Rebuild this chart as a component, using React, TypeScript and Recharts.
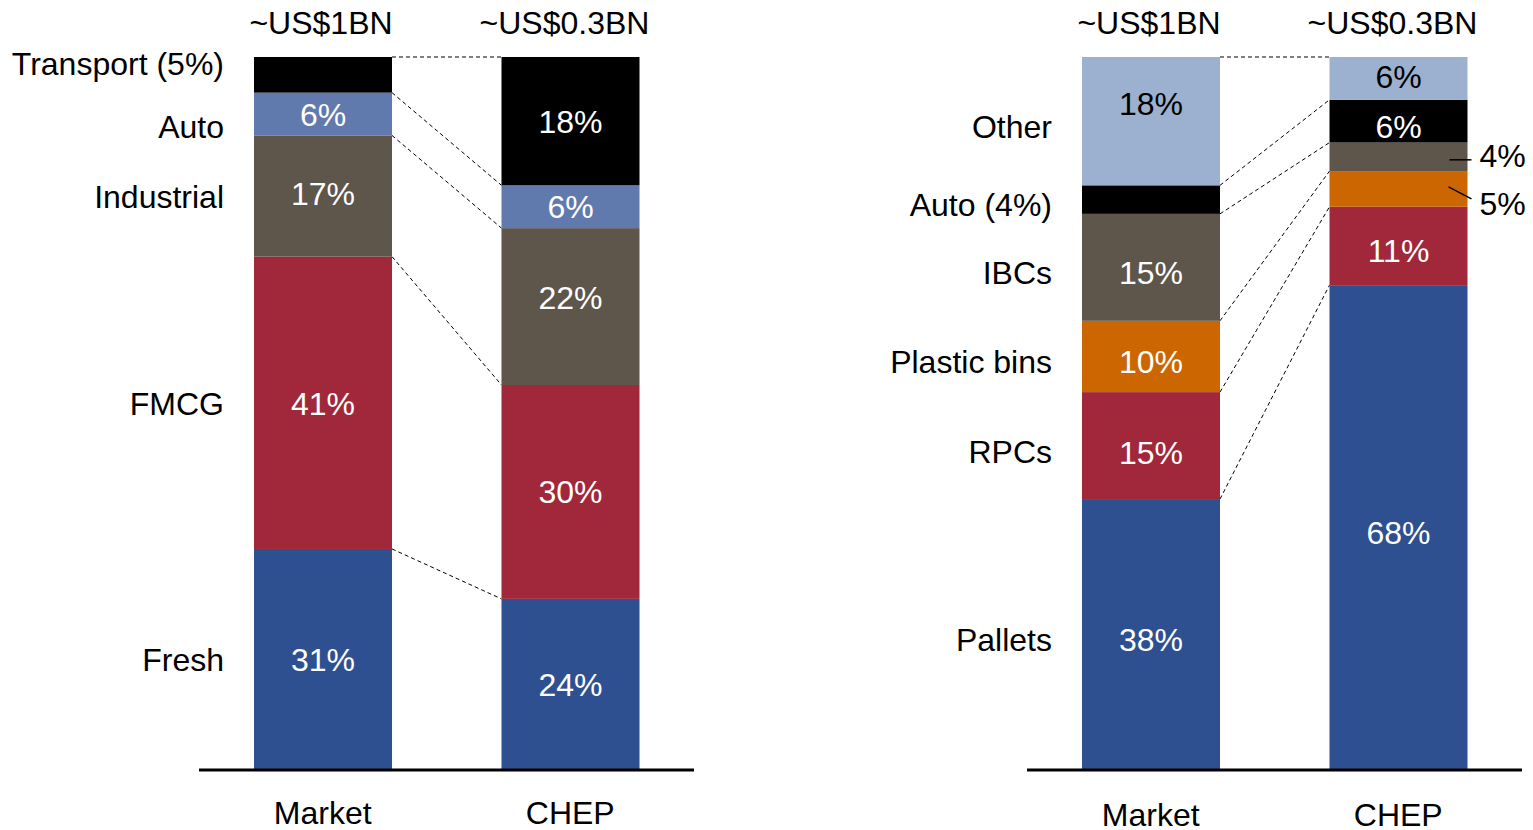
import { BarChart, Bar, XAxis, YAxis, LabelList } from 'recharts';

const categories = ['Market', 'CHEP'];
const sizeLabels = ['~US$1BN', '~US$0.3BN'];

// left panel: end market split, bottom to top
const leftSeries = ['Fresh', 'FMCG', 'Industrial', 'Auto', 'Transport'];
const leftSideLabels = ['Fresh', 'FMCG', 'Industrial', 'Auto', 'Transport (5%)'];
const leftMarket = [31, 41, 17, 6, 5];
const leftChep = [24, 30, 22, 6, 18];

// right panel: product split, bottom to top
const rightSeries = ['Pallets', 'RPCs', 'Plastic bins', 'IBCs', 'Auto', 'Other'];
const rightSideLabels = ['Pallets', 'RPCs', 'Plastic bins', 'IBCs', 'Auto (4%)', 'Other'];
const rightMarket = [38, 15, 10, 15, 4, 18];
const rightChep = [68, 11, 5, 4, 6, 6];

const FONT = "'Liberation Sans', Arial, sans-serif";
const FS = 32;
const PANEL_W = 766;
const PANEL_H = 830;

const BLUE = '#2E5090';
const RED = '#A0283A';
const BROWN = '#5E554B';
const STEEL = '#617AAE';
const BLACK = '#000000';
const ORANGE = '#CC6600';
const PALE = '#9CB0CF';

const sum = (arr: number[], n: number) => arr.slice(0, n).reduce((a, b) => a + b, 0);

type PanelProps = {
  names: string[];
  sideLabels: string[];
  market: number[];
  chep: number[];
  colors: string[];
  ink: string[];
  margin: { top: number; right: number; bottom: number; left: number };
  sideDy: number[];
  marketDy: number[];
  chepDy: number[];
  hideMarket: number[];
  outsideChep: number[];
  tickDy: number;
  left: number;
};

const Panel = (cfg: PanelProps) => {
  const { names, market, chep, margin } = cfg;
  const rows = categories.map((name, ci) => {
    const row: any = { name, size: sizeLabels[ci] };
    names.forEach((n, si) => {
      row[n] = ci === 0 ? market[si] : chep[si];
    });
    return row;
  });
  const band = (PANEL_W - margin.left - margin.right) / categories.length;

  const renderShape = (si: number) => (p: any) => {
    const { x, y, width, height, index } = p;
    let connector = null;
    if (index === 0 && market[si] > 0) {
      const k = height / market[si];
      const yBottom = y + height + sum(market, si) * k;
      const yChep = yBottom - sum(chep, si + 1) * k;
      connector = (
        <line x1={x + width} y1={y} x2={x + band} y2={yChep}
          stroke="#000" strokeWidth={1} strokeDasharray="4 3" />
      );
    }
    return (
      <g>
        <rect x={x} y={y} width={width} height={height} fill={cfg.colors[si]} />
        {connector}
      </g>
    );
  };

  const renderInside = (si: number) => (p: any) => {
    const vb = p.viewBox || p;
    const x = vb.x ?? p.x;
    const y = vb.y ?? p.y;
    const w = vb.width ?? p.width;
    const h = vb.height ?? p.height;
    const index = p.index;
    const cy = y + h / 2;
    if (index === 0 && cfg.hideMarket.includes(si)) return null;
    if (index === 1 && cfg.outsideChep.includes(si)) {
      // first entry gets a flat leader, the second a sloped one
      const first = cfg.outsideChep.indexOf(si) === 0;
      const right = x + w;
      return (
        <g>
          {first ? (
            <line x1={right - 18} y1={cy + 3} x2={right + 4} y2={cy + 3} stroke="#000" strokeWidth={1.5} />
          ) : (
            <line x1={right - 19} y1={cy - 2} x2={right + 4} y2={cy + 10} stroke="#000" strokeWidth={1.5} />
          )}
          <text x={right + 12} y={first ? cy - 1 : cy + 15} dy="0.36em" fontSize={FS} fontFamily={FONT} fill="#000">
            {p.value}%
          </text>
        </g>
      );
    }
    const dy = index === 0 ? cfg.marketDy[si] : cfg.chepDy[si];
    return (
      <text x={x + w / 2} y={cy + dy} dy="0.36em" textAnchor="middle" fontSize={FS}
        fontFamily={FONT} fill={cfg.ink[si]}>
        {p.value}%
      </text>
    );
  };

  const renderSide = (si: number) => (p: any) => {
    const vb = p.viewBox || p;
    const x = vb.x ?? p.x;
    const y = vb.y ?? p.y;
    const h = vb.height ?? p.height;
    if (p.index !== 0) return null;
    return (
      <text x={x - 30} y={y + h / 2 + cfg.sideDy[si]} dy="0.36em" textAnchor="end"
        fontSize={FS} fontFamily={FONT} fill="#000">
        {cfg.sideLabels[si]}
      </text>
    );
  };

  const renderTitle = (p: any) => {
    const vb = p.viewBox || p;
    const x = vb.x ?? p.x;
    const y = vb.y ?? p.y;
    const w = vb.width ?? p.width;
    return (
      <text x={x + w / 2 - (p.index === 1 ? 6 : 2)} y={y - 35} dy="0.36em" textAnchor="middle"
        fontSize={FS} fontFamily={FONT} fill="#000">
        {p.value}
      </text>
    );
  };

  return (
    <div style={{ position: 'absolute', left: cfg.left, top: 0 }}>
      <BarChart width={PANEL_W} height={PANEL_H} data={rows} margin={margin} barCategoryGap={0}>
        <XAxis
          dataKey="name"
          axisLine={{ stroke: '#000', strokeWidth: 3 }}
          tickLine={false}
          tickSize={0}
          tickMargin={0}
          height={30}
          interval={0}
          tick={(t: any) => (
            <text x={t.x} y={t.y} dy={cfg.tickDy} textAnchor="middle" fontSize={FS}
              fontFamily={FONT} fill="#000">
              {t.payload.value}
            </text>
          )}
        />
        <YAxis hide type="number" domain={[0, 100]} />
        {names.map((n, si) => (
          <Bar key={n} dataKey={n} stackId="s" fill={cfg.colors[si]} barSize={138}
            isAnimationActive={false} shape={renderShape(si)}>
            <LabelList dataKey={n} content={renderInside(si)} />
            <LabelList dataKey={n} content={renderSide(si)} />
            {si === names.length - 1 && <LabelList dataKey="size" content={renderTitle} />}
          </Bar>
        ))}
      </BarChart>
    </div>
  );
};

export default function App() {
  return (
    <div style={{ position: 'absolute', left: 0, top: 0, width: 1533, height: 830, background: '#fff' }}>
      <Panel
        names={leftSeries}
        sideLabels={leftSideLabels}
        market={leftMarket}
        chep={leftChep}
        colors={[BLUE, RED, BROWN, STEEL, BLACK]}
        ink={['#fff', '#fff', '#fff', '#fff', '#fff']}
        margin={{ top: 57, right: 72, bottom: 30, left: 199 }}
        sideDy={[0, 1, 0, 12, -11]}
        marketDy={[0, 1, -3, 0, 0]}
        chepDy={[0, 0, -9, 0, 0]}
        hideMarket={[4]}
        outsideChep={[]}
        tickDy={54}
        left={0}
      />
      <Panel
        names={rightSeries}
        sideLabels={rightSideLabels}
        market={rightMarket}
        chep={rightChep}
        colors={[BLUE, RED, ORANGE, BROWN, BLACK, PALE]}
        ink={['#fff', '#fff', '#fff', '#fff', '#fff', '#000']}
        margin={{ top: 57, right: 11, bottom: 30, left: 260 }}
        sideDy={[5, 6, 5, 5, 5, 5]}
        marketDy={[5, 7, 5, 5, 0, -18]}
        chepDy={[5, 5, 0, 0, 5, -2]}
        hideMarket={[4]}
        outsideChep={[3, 2]}
        tickDy={56}
        left={767}
      />
    </div>
  );
}
